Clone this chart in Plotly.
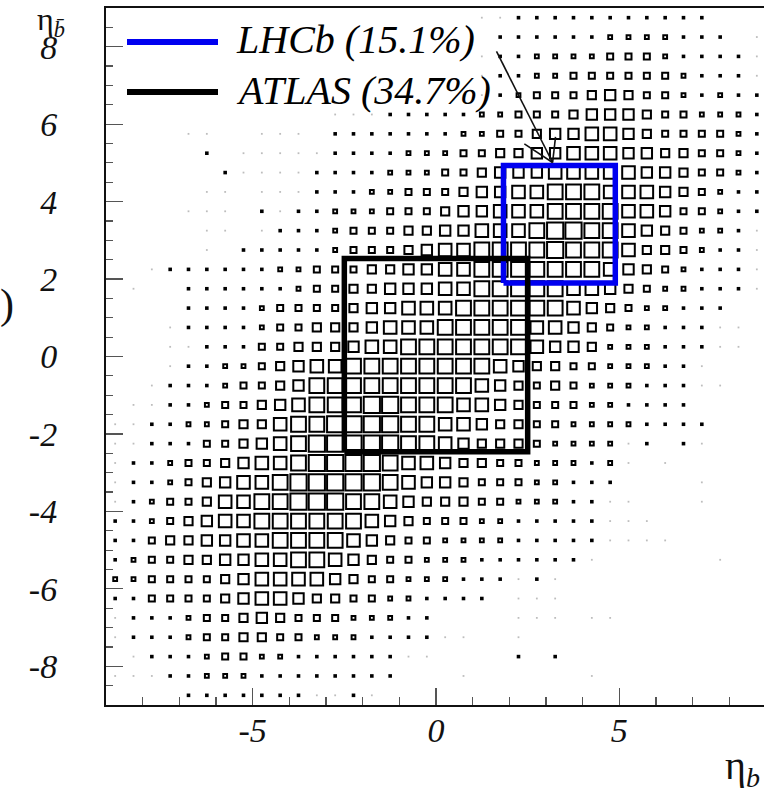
import plotly.graph_objects as go

# ---------------- data ----------------
# bin centres (bin width 0.5) for eta_b (x) and eta_bbar (y)
eta_b_centres = [-8.75, -8.25, -7.75, -7.25, -6.75, -6.25, -5.75, -5.25, -4.75, -4.25, -3.75, -3.25,
                 -2.75, -2.25, -1.75, -1.25, -0.75, -0.25, 0.25, 0.75, 1.25, 1.75, 2.25, 2.75,
                 3.25, 3.75, 4.25, 4.75, 5.25, 5.75, 6.25, 6.75, 7.25, 7.75, 8.25, 8.75]
eta_bbar_centres = list(reversed(eta_b_centres))  # rows listed top (8.75) to bottom (-8.75)

# relative bin contents (0-9); one string per row, top to bottom
box_rows = [
    "000000000000" "000000001122" "222222222000",
    "000000000000" "000000000222" "222333322201",
    "000000000000" "000000001223" "333444322221",
    "000000000000" "000000001223" "344444432221",
    "000000000000" "000000001234" "445654432322",
    "000000000000" "111222223344" "456665443332",
    "000011001110" "222222233445" "667765444432",
    "000002011111" "222233344556" "677766554432",
    "000000211112" "222333445666" "777776654432",
    "000001101112" "223344456677" "888777654322",
    "000011102122" "333444566777" "888877644322",
    "000001101222" "344455667778" "998876543321",
    "000001022222" "344456778888" "988875543221",
    "001222222334" "445566778888" "888765432221",
    "010022222234" "455666778888" "877654332221",
    "000022223444" "456677788888" "876543322200",
    "000122223445" "556777888887" "765433222110",
    "000112224455" "567788888887" "665333222110",
    "000122334567" "788888888765" "544333221000",
    "001222344568" "888888887654" "543332221100",
    "011223445678" "889988877654" "443322220000",
    "112233455788" "999988776554" "433332222000",
    "112224456789" "999988765554" "333312021000",
    "122344567789" "999877655443" "332310100000",
    "122345677899" "999876654443" "322200001000",
    "123445778899" "988765554433" "322110001000",
    "223456778888" "887654443322" "222111000000",
    "224556677888" "876544333322" "222111100000",
    "234455667788" "765443332222" "221000000100",
    "334444567777" "654433322212" "100000000000",
    "224444567765" "544332222011" "100000000000",
    "122234456544" "433322000011" "101100000000",
    "122234455443" "332222110010" "000000000000",
    "012223443322" "222211000020" "200000000000",
    "111223332222" "222200010000" "001000000000",
    "000022222221" "121000000000" "000000000000",
]

region_names = ["LHCb (15.1%)", "ATLAS (34.7%)"]
region_x = [[1.84, 4.89], [-2.5, 2.5]]
region_y = [[1.9, 4.93], [-2.46, 2.53]]
region_colors = ["#0000f0", "#000000"]

x_tick_vals = [-5, 0, 5]
x_tick_text = ["-5", "0", "5"]
y_tick_vals = [-8, -6, -4, -2, 0, 2, 4, 6, 8]
y_tick_text = ["-8", "-6", "-4", "-2", "0", "2", "4", "6", "8"]

# ---------------- figure ----------------
W, H = 764, 794
ML, MR, MT, MB = 106, 0, 8, 89
PW, PH = W - ML - MR, H - MT - MB
SERIF = "Liberation Serif, Times New Roman, serif"

xs, ys, vals = [], [], []
for r, row in enumerate(box_rows):
    for c, ch in enumerate(row):
        v = int(ch)
        if v > 0:
            xs.append(eta_b_centres[c])
            ys.append(eta_bbar_centres[r])
            vals.append(v)

LW = 2.0
sizes = [min(max(2.2 * v - 0.8 - LW, 0.6), 16.2) for v in vals]
colors = ["#bdbdbd" if v == 1 else "#000000" for v in vals]
widths = [1.2 if v == 1 else LW for v in vals]

fig = go.Figure()
fig.add_trace(go.Scatter(
    x=xs, y=ys, mode="markers",
    marker=dict(symbol="square-open", size=sizes, color=colors, opacity=1,
                line=dict(width=widths, color=colors)),
    hoverinfo="skip", showlegend=False,
))

for name, rx, ry, col in zip(region_names, region_x, region_y, region_colors):
    fig.add_trace(go.Scatter(
        x=[rx[0], rx[1], rx[1], rx[0], rx[0]],
        y=[ry[0], ry[0], ry[1], ry[1], ry[0]],
        mode="lines", line=dict(color=col, width=5.5),
        name=name, showlegend=False, hoverinfo="skip",
    ))

def px_x(p):
    return (p - ML) / PW

def px_y(p):
    return (H - MB - p) / PH

# manual ROOT-style legend
legend_rows_py = [42, 92]
for name, col, py in zip(region_names, region_colors, legend_rows_py):
    fig.add_shape(type="line", xref="paper", yref="paper",
                  x0=px_x(127), x1=px_x(218), y0=px_y(py), y1=px_y(py),
                  line=dict(color=col, width=6))
    fig.add_annotation(xref="paper", yref="paper", x=px_x(234), y=px_y(py - 2),
                       text=name, showarrow=False, xanchor="left", yanchor="middle",
                       font=dict(family=SERIF, size=40, color="#000", style="italic"))

# arrow from the legend text to the LHCb box
arrow_lines = [((1.65, 7.88), (3.18, 5.01)), ((2.41, 5.49), (3.18, 5.01)), ((3.26, 5.67), (3.18, 5.01))]
for (x0, y0), (x1, y1) in arrow_lines:
    fig.add_shape(type="line", xref="x", yref="y", x0=x0, y0=y0, x1=x1, y1=y1,
                  line=dict(color="#111", width=1.6))

# axis titles
fig.add_annotation(xref="paper", yref="paper", x=px_x(723), y=px_y(768), text="η<sub><i>b</i></sub>",
                   showarrow=False, xanchor="left", yanchor="middle",
                   font=dict(family=SERIF, size=40, color="#111"))
fig.add_annotation(xref="paper", yref="paper", x=px_x(36), y=px_y(0), text="η<sub><i>b̄</i></sub>",
                   showarrow=False, xanchor="left", yanchor="top", borderpad=0,
                   font=dict(family=SERIF, size=32, color="#111"))
fig.add_annotation(xref="paper", yref="paper", x=px_x(-2), y=px_y(304), text=")",
                   showarrow=False, xanchor="left", yanchor="middle",
                   font=dict(family=SERIF, size=42, color="#111"))

axis_common = dict(showgrid=False, zeroline=False, showline=True, linecolor="#111", linewidth=2,
                   ticks="inside", tickcolor="#555", tickwidth=1.3,
                   tickfont=dict(family=SERIF, size=34, color="#111", style="italic"))

fig.update_layout(
    width=W, height=H, margin=dict(l=ML, r=MR, t=MT, b=MB),
    paper_bgcolor="white", plot_bgcolor="white", showlegend=False,
    xaxis=dict(range=[-9, -9 + PW / (660 / 18.0)], tickmode="array", tickvals=x_tick_vals,
               ticktext=x_tick_text, ticklen=17, mirror=True, ticklabelstandoff=-6,
               minor=dict(dtick=1, tick0=0, ticklen=8, ticks="inside", tickcolor="#555", tickwidth=1.2),
               **axis_common),
    yaxis=dict(range=[-9, 9], tickmode="array", tickvals=y_tick_vals, ticktext=y_tick_text,
               ticklen=17, ticklabelstandoff=40,
               minor=dict(dtick=0.5, tick0=0, ticklen=7, ticks="inside", tickcolor="#555", tickwidth=1.2),
               **axis_common),
)

fig.write_html("out.html", config={"displayModeBar": False, "staticPlot": True},
               post_script="document.body.style.margin='0px';")
